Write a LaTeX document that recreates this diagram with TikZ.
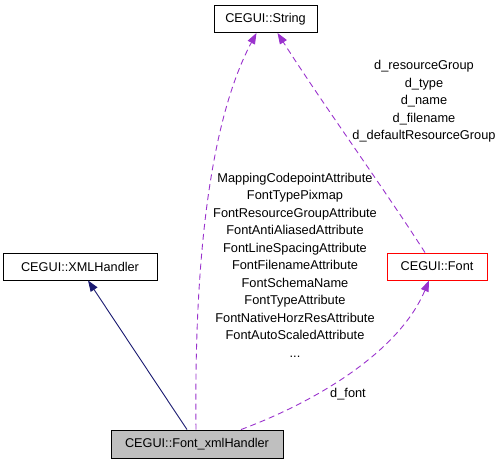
\documentclass[tikz,border=0pt]{standalone}
\usepackage{fontspec}
\setmainfont{Liberation Sans}
\usetikzlibrary{arrows.meta,calc}
\definecolor{edgepurple}{HTML}{9A32CD}
\definecolor{edgeblue}{HTML}{191970}
\definecolor{boxgray}{HTML}{BFBFBF}
\tikzset{
  cls/.style={draw=black, line width=0.9pt, minimum height=27pt, inner sep=0pt, font=\fontsize{12.7}{15}\selectfont},
  usedge/.style={edgepurple, line width=0.9pt, dash pattern=on 6pt off 4pt, -{Triangle[length=11pt,width=8pt]}},
  inhedge/.style={edgeblue, line width=0.9pt, -{Triangle[length=11pt,width=8pt]}},
  lbl/.style={align=center, inner sep=0pt, font=\fontsize{12.8}{17.5}\selectfont}
}
\begin{document}
\begin{tikzpicture}[x=1pt,y=-1pt]
\useasboundingbox (0,0) rectangle (503,464);
\node[cls, minimum width=103pt] (str) at (265.5,19) {CEGUI::String};
\node[cls, minimum width=154pt] (xml) at (80,266.5) {CEGUI::XMLHandler};
\node[cls, draw=red, minimum width=100pt] (font) at (437,266.5) {CEGUI::Font};
\node[cls, fill=boxgray, minimum width=172pt, minimum height=28pt] (fxh) at (197,444) {CEGUI::Font\_xmlHandler};
\coordinate (a1) at ($(fxh.north)+(-10,0)$);
\coordinate (a2) at ($(xml.south)+(8,0)$);
\draw[inhedge] (a1) -- (a2);
\coordinate (b1) at ($(fxh.north)+(-1,0)$);
\coordinate (b2) at ($(str.south)+(-9,0)$);
\draw[usedge] (b1) .. controls (194,260) and (210,120) .. (b2);
\coordinate (c1) at ($(font.north)+(-12,0)$);
\coordinate (c2) at ($(str.south)+(12,0)$);
\draw[usedge] (c1) .. controls (385,190) and (320,100) .. (c2);
\coordinate (d1) at ($(fxh.north)+(44,0)$);
\coordinate (d2) at ($(font.south)+(-8,0)$);
\draw[usedge] (d1) .. controls (320,400) and (400,350) .. (d2);
\node[lbl] (l1) at (295,265) {MappingCodepointAttribute\\FontTypePixmap\\FontResourceGroupAttribute\\FontAntiAliasedAttribute\\FontLineSpacingAttribute\\FontFilenameAttribute\\FontSchemaName\\FontTypeAttribute\\FontNativeHorzResAttribute\\FontAutoScaledAttribute\\...};
\node[lbl] (l2) at (424,101.5) {d\_resourceGroup\\d\_type\\d\_name\\d\_filename\\d\_defaultResourceGroup};
\node[lbl] (l3) at (348,394) {d\_font};
\end{tikzpicture}
\end{document}
